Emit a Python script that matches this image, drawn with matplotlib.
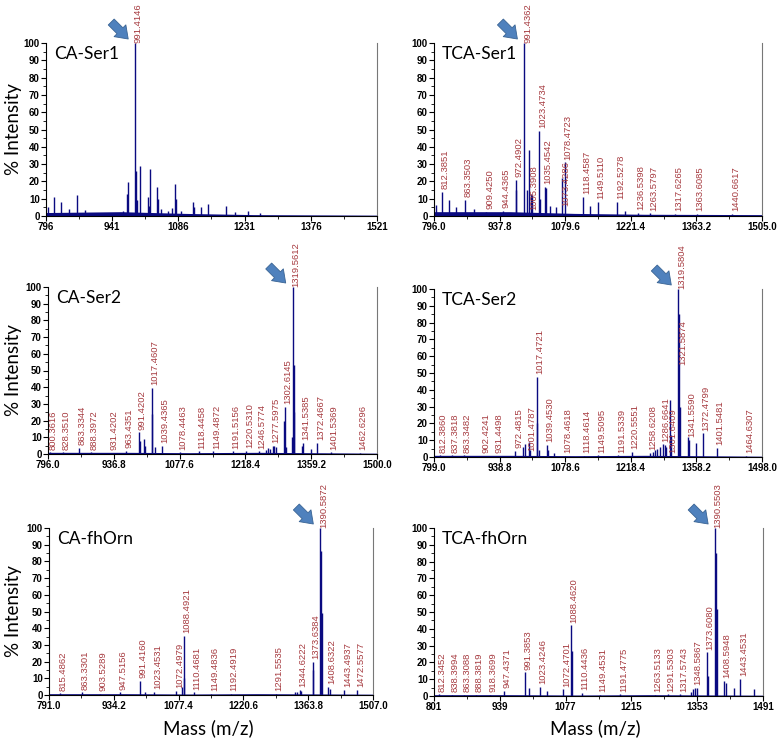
import matplotlib
matplotlib.use("Agg")
import matplotlib.pyplot as plt
from matplotlib.ticker import MultipleLocator, AutoMinorLocator
from matplotlib.transforms import offset_copy

# ---- data ----
names = ["CA-Ser1", "TCA-Ser1", "CA-Ser2", "TCA-Ser2", "CA-fhOrn", "TCA-fhOrn"]

xticks = [
    ["796", "941", "1086", "1231", "1376", "1521"],
    ["796.0", "937.8", "1079.6", "1221.4", "1363.2", "1505.0"],
    ["796.0", "936.8", "1077.6", "1218.4", "1359.2", "1500.0"],
    ["799.0", "938.8", "1078.6", "1218.4", "1358.2", "1498.0"],
    ["791.0", "934.2", "1077.4", "1220.6", "1363.8", "1507.0"],
    ["801", "939", "1077", "1215", "1353", "1491"],
]

# peak masses / intensities
mz1 = [801.4, 813.1, 829.1, 847.4, 864.2, 882.5, 913.2, 964.3, 973.5, 974.6, 991.4, 993.6,
       995.8, 1002.3, 1018.4, 1021.4, 1024.3, 1038.9, 1040.4, 1047.7, 1063.0, 1072.5, 1078.4,
       1079.8, 1092.2, 1117.8, 1119.3, 1134.6, 1150.0, 1190.9, 1209.9, 1238.4, 1264.0]
in1 = [5, 11, 8, 4, 12, 3.5, 2, 3, 13, 19.5, 100, 26,
       9, 29, 11, 6, 27, 17, 10, 4, 3, 4.5, 18.5,
       10, 3, 8, 5, 5, 7, 6, 2.5, 3, 1.5]

mz2 = [800.4, 812.4, 827.8, 843.7, 863.4, 883.3, 909.4, 944.4, 972.5, 973.8, 991.4, 997.2,
       1001.5, 1005.4, 1008.0, 1023.5, 1026.0, 1035.5, 1038.8, 1046.0, 1060.4, 1073.4, 1078.5,
       1118.5, 1134.0, 1149.5, 1192.5, 1208.2, 1236.5, 1263.6, 1317.6, 1363.6, 1440.7]
in2 = [6.5, 14, 9, 5, 9.5, 4, 2.5, 3, 21, 15, 100, 15,
       38, 13, 12, 49, 10, 17, 16, 6, 5, 22, 31,
       11, 6, 8, 8, 3, 2, 1.5, 1, 1, 1]

mz3 = [800.4, 828.4, 863.3, 888.4, 931.4, 963.4, 991.4, 993.6, 1002.0, 1004.0, 1017.5, 1019.0,
       1024.0, 1039.4, 1078.4, 1118.4, 1149.5, 1191.5, 1220.5, 1246.6, 1262.0, 1266.0, 1270.0,
       1277.6, 1280.0, 1283.0, 1301.6, 1302.6, 1306.0, 1317.5, 1319.6, 1321.6, 1323.0, 1339.5,
       1341.5, 1359.0, 1372.5, 1401.5, 1462.6]
in3 = [1, 1, 3.5, 1, 0.7, 2, 13, 7.5, 9, 5, 39.5, 24,
       4, 5, 1, 1.5, 1.5, 1.5, 2, 1.5, 2.5, 3.5, 3,
       5, 4.5, 4, 20, 28, 4, 10, 100, 53, 25, 5,
       6.5, 3, 6.5, 1, 0.5]

mz4 = [812.4, 837.4, 863.3, 902.4, 931.4, 972.5, 989.7, 991.9, 1001.5, 1004.0, 1017.5, 1019.0,
       1023.0, 1039.5, 1041.0, 1054.0, 1078.5, 1118.5, 1149.5, 1191.5, 1220.6, 1258.6, 1265.0,
       1270.0, 1275.0, 1280.0, 1286.7, 1291.0, 1294.0, 1302.6, 1304.8, 1319.6, 1321.6, 1323.0,
       1339.5, 1341.6, 1358.0, 1372.5, 1401.5, 1464.6]
in4 = [1, 1, 1, 0.5, 0.5, 3.5, 6, 8, 9, 4, 47.5, 20,
       4, 7, 4, 2.5, 0.7, 0.7, 1, 1, 3, 2.5, 3,
       4, 5, 6, 7.5, 7, 6, 34, 13, 100, 85, 30,
       12, 10, 8.5, 14, 5.5, 0.5]

mz5 = [815.5, 863.3, 903.5, 947.5, 991.4, 1003.0, 1023.5, 1072.5, 1086.0, 1088.5, 1090.0,
       1110.5, 1149.5, 1192.5, 1291.6, 1335.0, 1340.0, 1344.6, 1348.0, 1373.6, 1375.0, 1390.6,
       1392.0, 1393.5, 1408.6, 1411.0, 1443.5, 1472.6]
in5 = [1, 1.5, 0.7, 1.5, 8.5, 1.5, 2, 2.5, 5, 35.5, 10,
       1.5, 0.5, 0.5, 0.5, 1.5, 2, 3, 2.5, 20, 15, 100,
       86, 49, 5, 3.5, 3, 3]

mz6 = [812.3, 838.4, 863.3, 888.4, 918.4, 947.4, 991.4, 999.5, 1023.4, 1039.0, 1072.5,
       1088.5, 1090.0, 1110.4, 1149.5, 1191.5, 1263.5, 1291.5, 1317.6, 1340.0, 1345.0, 1348.6,
       1352.0, 1373.6, 1375.0, 1390.6, 1392.0, 1393.5, 1408.6, 1413.0, 1430.0, 1443.5, 1472.0]
in6 = [1, 0.5, 0.5, 0.5, 0.5, 3, 14, 5, 5.5, 3, 4,
       42, 27, 2, 0.7, 1, 0.5, 1, 1, 2.5, 4, 5,
       4.5, 26, 12, 100, 85, 52, 9, 8, 5, 10, 4]

# baseline (noise floor) read at a few masses
base_mz = [
    [796, 960, 1100, 1250, 1521],
    [796, 960, 1100, 1250, 1505],
    [796, 960, 1100, 1250, 1500],
    [799, 960, 1100, 1250, 1498],
    [791, 960, 1100, 1250, 1507],
    [801, 960, 1100, 1250, 1491],
]
base_lv = [
    [2, 2.5, 1.5, 0.8, 0.5],
    [2.5, 2.5, 1.5, 1.0, 0.8],
    [1, 1, 0.8, 1, 0.5],
    [1, 1, 0.8, 1, 0.5],
    [0.8, 0.8, 0.6, 0.8, 0.5],
    [0.8, 0.8, 0.6, 0.8, 0.5],
]

labels = [
    ["991.4146"],
    ["812.3851", "863.3503", "909.4250", "944.4365", "972.4902", "991.4362", "1005.3908",
     "1023.4734", "1035.4542", "1073.4286", "1078.4723", "1118.4587", "1149.5110", "1192.5278",
     "1236.5398", "1263.5797", "1317.6265", "1363.6085", "1440.6617"],
    ["800.3616", "828.3510", "863.3344", "888.3972", "931.4202", "963.4351", "991.4202",
     "1017.4607", "1039.4365", "1078.4463", "1118.4458", "1149.4872", "1191.5156", "1220.5310",
     "1246.5774", "1277.5975", "1302.6145", "1319.5612", "1341.5385", "1372.4667", "1401.5369",
     "1462.6296"],
    ["812.3860", "837.3818", "863.3482", "902.4241", "931.4498", "972.4815", "1001.4787",
     "1017.4721", "1039.4530", "1078.4618", "1118.4614", "1149.5095", "1191.5339", "1220.5551",
     "1258.6208", "1286.6641", "1301.6409", "1319.5804", "1321.5874", "1341.5590", "1372.4799",
     "1401.5481", "1464.6307"],
    ["815.4862", "863.3301", "903.5289", "947.5156", "991.4160", "1023.4531", "1072.4979",
     "1088.4921", "1110.4681", "1149.4836", "1192.4919", "1291.5535", "1344.6222", "1373.6384",
     "1390.5872", "1408.6322", "1443.4937", "1472.5577"],
    ["812.3452", "838.3994", "863.3088", "888.3819", "918.3699", "947.4371", "991.3853",
     "1023.4246", "1072.4701", "1088.4620", "1110.4436", "1149.4531", "1191.4775", "1263.5133",
     "1291.5303", "1317.5743", "1348.5867", "1373.6080", "1390.5503", "1408.5948", "1443.4531"],
]

# labels that the software set lower than their peak top
label_y = {"1005.3908": 2, "1073.4286": 4, "1301.6409": 0.5, "1321.5874": 53, "1001.4787": 2}

mzs = [mz1, mz2, mz3, mz4, mz5, mz6]
ints = [in1, in2, in3, in4, in5, in6]

# ---- layout (pixel boxes: left, right, top, bottom) ----
W, H = 778, 739
boxes = [(46, 377, 43, 216), (434, 762, 43, 216),
         (48, 377, 287, 454), (434, 762, 289, 457),
         (49, 373, 528, 695), (434, 763, 528, 696)]

spec_col = "#0a0a80"
lab_col = "#a63a3f"
lab_font = ["Liberation Sans Narrow", "Liberation Sans", "DejaVu Sans"]

fig = plt.figure(figsize=(W / 100, H / 100), dpi=100)

for k in range(6):
    l, r, t, b = boxes[k]
    ax = fig.add_axes([l / W, 1 - b / H, (r - l) / W, (b - t) / H])
    ticks = [float(s) for s in xticks[k]]
    xmin, xmax = ticks[0], ticks[-1]

    ax.fill_between(base_mz[k], base_lv[k], 0, color=spec_col, lw=0)
    ax.vlines(mzs[k], 0, ints[k], color=spec_col, lw=1.0)

    ax.set_xlim(xmin, xmax)
    ax.set_ylim(0, 100)
    ax.set_xticks(ticks)
    ax.set_xticklabels(xticks[k])
    ax.xaxis.set_minor_locator(AutoMinorLocator(2))
    ax.yaxis.set_major_locator(MultipleLocator(10))
    ax.yaxis.set_minor_locator(MultipleLocator(5))
    ax.tick_params(which="major", length=3.5, width=0.8, labelsize=7, pad=1)
    ax.tick_params(which="minor", length=2, width=0.6)
    for tl in ax.get_xticklabels() + ax.get_yticklabels():
        tl.set_fontweight("bold")
        tl.set_family("Liberation Sans")
    ax.spines["top"].set_visible(False)
    ax.spines["right"].set_color("#777777")
    ax.spines["left"].set_linewidth(0.8)
    ax.spines["bottom"].set_linewidth(0.8)

    # peak labels
    for s in labels[k]:
        m = float(s)
        near = [h for x, h in zip(mzs[k], ints[k]) if abs(x - m) < 1.6]
        h = max(near) if near else 1
        h = label_y.get(s, h)
        dy = 0 if h >= 100 else 2
        ax.annotate(s, xy=(m, h), xytext=(-1, dy), textcoords="offset points",
                    rotation=90, ha="left", va="bottom", fontsize=6.8,
                    color=lab_col, family=lab_font, annotation_clip=False)

    # arrow to base peak
    top = mzs[k][ints[k].index(100)]
    tip = offset_copy(ax.transData, fig=fig, x=-7, y=4, units="dots")
    tail = offset_copy(ax.transData, fig=fig, x=-24, y=21, units="dots")
    ax.annotate("", xy=(top, 100), xycoords=tip, xytext=(top, 100), textcoords=tail,
                arrowprops=dict(arrowstyle="simple,head_width=1.0,head_length=0.7,tail_width=0.5",
                                fc="#4f81bd", ec="#3a6494", lw=0.6, mutation_scale=12,
                                shrinkA=0, shrinkB=0),
                annotation_clip=False)

    ax.text(8 / (r - l), 1 - 3 / (b - t), names[k], transform=ax.transAxes,
            ha="left", va="top", fontsize=12.5, family="Lato")

# shared axis labels
for t, b in [(43, 216), (287, 454), (528, 695)]:
    fig.text(14 / W, 1 - (t + b) / 2 / H, "% Intensity", rotation=90, ha="center",
             va="center", fontsize=13.5, family="Lato")
for l, r in [(49, 373), (434, 763)]:
    fig.text((l + r) / 2 / W - 3 / W, 1 - 728 / H, "Mass (m/z)", ha="center", va="center",
             fontsize=13.5, family="Lato")

fig.savefig("out.png", dpi=100)
